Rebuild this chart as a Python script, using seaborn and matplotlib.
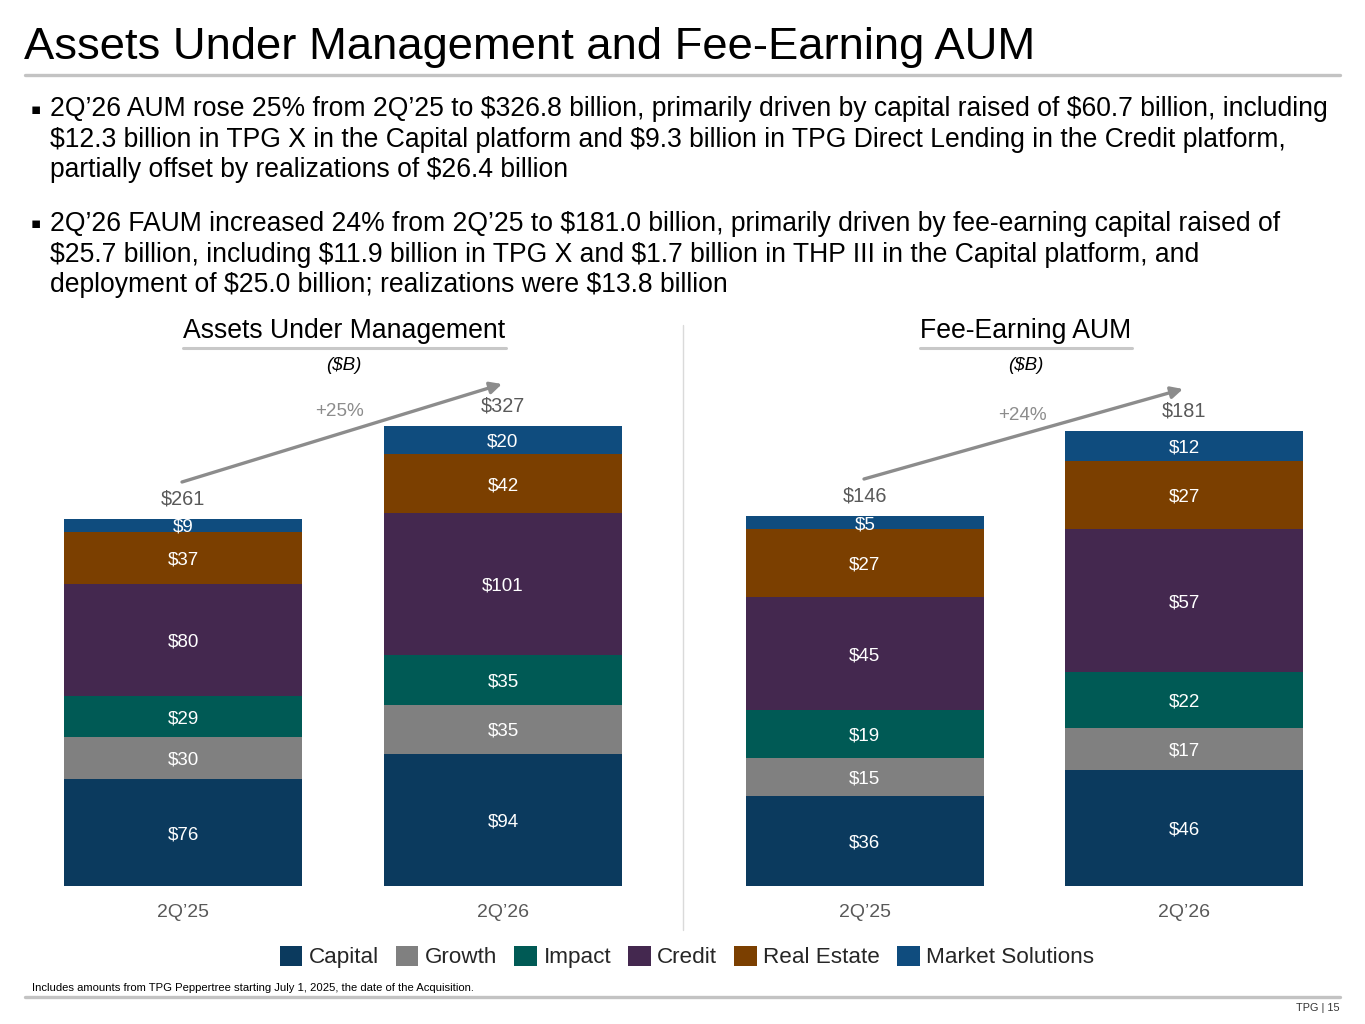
import matplotlib
matplotlib.use("Agg")
import matplotlib.pyplot as plt
import seaborn as sns
import numpy as np
import pandas as pd
from matplotlib.lines import Line2D
from matplotlib.patches import Patch, FancyArrowPatch

# ---------------- data ----------------
periods = ["2Q’25", "2Q’26"]
categories = ["Capital", "Growth", "Impact", "Credit", "Real Estate", "Market Solutions"]
colors = ["#0B3A5E", "#808080", "#005A55", "#44284F", "#7B3F00", "#0F4C7E"]

aum_2q25 = [76, 30, 29, 80, 37, 9]
aum_2q26 = [94, 35, 35, 101, 42, 20]
aum_totals = [261, 327]
aum_growth = "+25%"

faum_2q25 = [36, 15, 19, 45, 27, 5]
faum_2q26 = [46, 17, 22, 57, 27, 12]
faum_totals = [146, 181]
faum_growth = "+24%"

title = "Assets Under Management and Fee-Earning AUM"
bullet1 = ["2Q’26 AUM rose 25% from 2Q’25 to $326.8 billion, primarily driven by capital raised of $60.7 billion, including",
           "$12.3 billion in TPG X in the Capital platform and $9.3 billion in TPG Direct Lending in the Credit platform,",
           "partially offset by realizations of $26.4 billion"]
bullet2 = ["2Q’26 FAUM increased 24% from 2Q’25 to $181.0 billion, primarily driven by fee-earning capital raised of",
           "$25.7 billion, including $11.9 billion in TPG X and $1.7 billion in THP III in the Capital platform, and",
           "deployment of $25.0 billion; realizations were $13.8 billion"]
footnote = "Includes amounts from TPG Peppertree starting July 1, 2025, the date of the Acquisition."
page = "TPG | 15"

# ---------------- style ----------------
sns.set_theme(style="white")
plt.rcParams["font.family"] = ["Liberation Sans", "DejaVu Sans"]
plt.rcParams["text.parse_math"] = False

W, H = 1365, 1024
fig = plt.figure(figsize=(W / 100, H / 100), dpi=100)

def fx(px):
    return px / W

def fy(py):
    return 1 - py / H

GRAY_LINE = "#C3C3C3"
TXT_GRAY = "#595959"
ARROW_GRAY = "#8C8C8C"
LBL_FS = 13.5

# title and rule
fig.text(fx(24), fy(47), title, fontsize=32.7, va="center", ha="left", color="black")
fig.add_artist(Line2D([fx(25), fx(1340)], [fy(75), fy(75)], color=GRAY_LINE, lw=2.4,
                      transform=fig.transFigure))

# bullets
bul_fs = 19.1
for lines, ys in [(bullet1, [109, 140, 170]), (bullet2, [224, 255, 285])]:
    fig.text(fx(31), fy(ys[0]), "▪", fontsize=11, va="center", ha="left",
             family=["DejaVu Sans"], color="black")
    for ln, y in zip(lines, ys):
        fig.text(fx(50), fy(y), ln, fontsize=bul_fs, va="center", ha="left", color="black")

# ---------------- charts ----------------
bar_w = 0.744
ax_top, ax_bottom = 380, 886

def make_panel(left_px, right_px, px_per_unit, series, totals, growth, sub, subw,
               arrow, growth_xy):
    ax = fig.add_axes([fx(left_px), fy(ax_bottom), (right_px - left_px) / W,
                       (ax_bottom - ax_top) / H])
    df = pd.DataFrame(series, index=periods, columns=categories)
    cum = df.cumsum(axis=1)
    # draw from the top segment down so lower segments overlay
    for i in range(len(categories) - 1, -1, -1):
        d = pd.DataFrame({"period": periods, "value": cum.iloc[:, i].values})
        sns.barplot(data=d, x="period", y="value", color=colors[i], width=bar_w,
                    saturation=1, ax=ax, edgecolor="none", linewidth=0)
    # segment labels
    for j, p in enumerate(periods):
        for i, c in enumerate(categories):
            v = df.loc[p, c]
            mid = cum.iloc[j, i] - v / 2
            ax.annotate(f"${v}", (j, mid), xytext=(0, -1.5), textcoords="offset points",
                        ha="center", va="center", color="white", fontsize=LBL_FS)
        ax.annotate(f"${totals[j]}", (j, cum.iloc[j, -1]), xytext=(0, 14.5),
                    textcoords="offset points", ha="center", va="center",
                    color=TXT_GRAY, fontsize=14.3)
    ax.set_xlim(-bar_w / 2, 1 + bar_w / 2)
    ax.set_ylim(0, (ax_bottom - ax_top) / px_per_unit)
    ax.set_xlabel("")
    ax.set_ylabel("")
    ax.set_yticks([])
    ax.tick_params(axis="x", length=0, pad=13, labelsize=14, labelcolor=TXT_GRAY)
    for s in ax.spines.values():
        s.set_visible(False)
    # arrow
    (x0, y0), (x1, y1) = arrow
    fig.add_artist(FancyArrowPatch(
        (fx(x0), fy(y0)), (fx(x1), fy(y1)), transform=fig.transFigure,
        arrowstyle="-|>,head_length=7,head_width=3.5", color=ARROW_GRAY, lw=2.4,
        shrinkA=0, shrinkB=0))
    fig.text(fx(growth_xy[0]), fy(growth_xy[1]), growth, ha="center", va="center",
             color=ARROW_GRAY, fontsize=13.6)
    # subtitle
    cx = (left_px + right_px) / 2 + 1
    fig.text(fx(cx), fy(331), sub, ha="center", va="center", fontsize=19.2, color="black")
    fig.add_artist(Line2D([fx(cx - subw / 2), fx(cx + subw / 2)], [fy(348), fy(348)],
                          color="#C8C8C8", lw=2.2, transform=fig.transFigure))
    fig.text(fx(cx), fy(366), "($B)", ha="center", va="center", fontsize=13.5,
             style="italic", color="black")
    return ax

make_panel(64, 622, 460 / 327, [aum_2q25, aum_2q26], aum_totals, aum_growth,
           "Assets Under Management", 323, ((182, 482), (502, 384)), (340, 412))
make_panel(746, 1303, 455 / 181, [faum_2q25, faum_2q26], faum_totals, faum_growth,
           "Fee-Earning AUM", 212, ((864, 479), (1183, 389)), (1022, 415))

# divider
fig.add_artist(Line2D([fx(683), fx(683)], [fy(325), fy(930)], color="#DADADA", lw=1,
                      transform=fig.transFigure))

# legend
handles = [Patch(facecolor=c, edgecolor="none", label=l) for c, l in zip(colors, categories)]
fig.legend(handles=handles, loc="center", bbox_to_anchor=(fx(687), fy(957)), ncol=6,
           frameon=False, fontsize=16.2, handlelength=1.0, handleheight=1.0,
           handletextpad=0.3, columnspacing=0.75, borderpad=0)

# footnote and footer
fig.text(fx(32), fy(988), footnote, fontsize=8.1, va="center", ha="left", color="black")
fig.add_artist(Line2D([fx(25), fx(1340)], [fy(997), fy(997)], color=GRAY_LINE, lw=2.4,
                      transform=fig.transFigure))
fig.text(fx(1340), fy(1008), page, fontsize=7.8, va="center", ha="right", color="#333333")

fig.savefig("out.png", dpi=100)
